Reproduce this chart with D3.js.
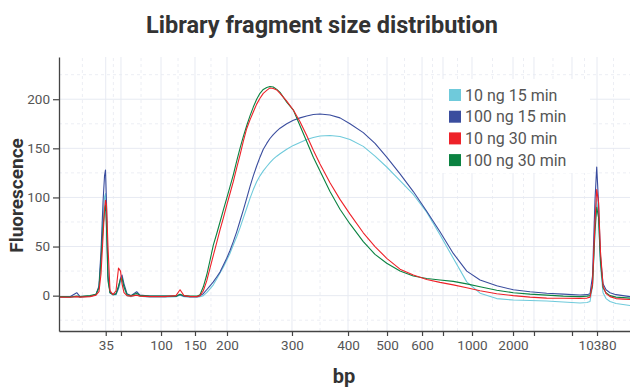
<!DOCTYPE html>
<html><head><meta charset="utf-8">
<script src="https://cdn.jsdelivr.net/npm/d3@7"></script>
<style>
body{margin:0;background:#fff;}
svg{display:block;font-family:Roboto, "Noto Sans", sans-serif;}
</style>
</head><body>
<svg id="chart" width="630" height="389"></svg>
<script>
// ---- Size ladder: fragment size (bp) and migration time (s) ----
const ladderBp   = [35, 50, 100, 150, 200, 300, 400, 500, 600, 700, 1000, 2000, 3000, 7000, 10380];
const ladderTime = [46.22, 48.25, 53.58, 58.10, 62.36, 71.01, 78.47, 83.66, 88.32, 91.11, 94.97, 100.43, 103.22, 108.28, 111.61];
const labeledBp  = [35, 100, 150, 200, 300, 400, 500, 600, 1000, 2000, 10380];
const yTicks = [0, 50, 100, 150, 200];
const timeRange = [40, 116];
const fluorRange = [-36, 243];

const seriesNames  = ["10 ng 15 min", "100 ng 15 min", "10 ng 30 min", "100 ng 30 min"];
const seriesColors = ["#6fcadb", "#3a4d9e", "#ee2229", "#0b8241"];

// ---- Electropherogram traces (migration time s -> fluorescence) ----
const time = [40.00,41.46,42.36,42.80,44.13,44.92,45.32,45.59,45.86,46.06,46.19,46.32,46.52,46.79,47.19,47.59,47.92,48.19,48.39,48.65,49.05,49.58,50.34,50.78,52.11,54.11,55.57,56.11,56.64,57.44,58.37,58.77,
59.21,59.66,60.10,60.54,60.99,61.43,61.87,62.32,62.76,63.20,63.65,64.09,64.53,64.98,65.42,65.86,66.31,66.75,67.19,67.65,68.08,68.52,68.98,69.42,70.31,71.19,72.08,72.97,73.85,74.74,76.07,77.40,78.73,80.50,82.06,83.62,85.39,87.16,88.94,90.71,92.48,94.27,96.04,98.26,100.47,102.69,104.91,107.12,109.35,110.28,110.68,111.01,111.34,111.57,111.81,112.07,112.41,112.81,113.34,114.14,115.07,116.00];

const fl10ng15 = [-1.5,-1.5,-1,-1.5,-0.5,1,8,40,80,100,104,80,20,3,0.5,1,7,14,16,8,0,-1,1,-0.5,-1.5,-1.5,-1,0.5,-1,-1.5,-1.5,-1,
0,3,7,11,17,23,29,36,43,51.5,60,69,79,89,99,108,116,122,127,131.5,135.5,139,142,144.5,149,153,156,159,161,162.5,163,162,159,152,142,131,117,103,85,62,38,14,2.5,-3,-4.5,-5,-5.5,-6.5,-7.5,-7,-6,10,70,98,80,30,3,-3,-6,-8,-9,-10];

const fl100ng15 = [-1,-1.2,3,-1,-0.5,1,10,45,95,122,128,95,20,3,1.5,1.5,8,18,21,12,2,0,4,0.5,-0.5,-0.5,-0.5,1,-0.5,-1,-1,0,
2,6,10,14,19,24,31,38,46,55,65,76,87,99,111,122,132,141,149,155,160,164,167.5,170.5,175,178.5,181,183,184.5,185,184,181,175,166,155,141,124,106,86,65,43,25,16,10,6,4,2.5,1.5,0.7,1,2,20,97,131,95,40,12,6,3,1,0,-1];

const fl10ng30 = [-1.5,-1.6,-1,-1.5,-1,0.5,4,22,60,88,97,92,50,5,1,5,28,25,12,3,0,-0.5,0.5,-0.5,-1,-1,0,6,0,-1,-1,0,
5,15,28,41,54,67,79,92,104,116,130,143,157,170,179,187,195,201,206,209,211.5,211,209.5,206,198,189,177,163,148,134,115,98,83,64,50,38,27,21,16.5,13.5,11,8,5,2,0,-1.5,-2.5,-2.7,-2.8,-2.5,-1.5,12,75,108,95,45,10,2,-1,-3,-3.5,-4];

const fl100ng30 = [-1,-1.3,-0.5,-1,0,1.5,8,35,70,86,92,70,15,3,1,2,10,17,18,9,1,0,2.5,0,-0.5,-0.5,-0.5,1.5,0,-0.5,-0.5,1,
9,21,36,51.5,63,75,87,99,111,123,137,150,162,173,183,192,200,206,210,212,213,212.5,210,207,197,189,173,157,141,127,106,88,73,55,42,33,25,20,17.5,16,14.5,12,9,5.5,3,1.5,0.5,-0.5,-1,-0.5,0,10,65,90,80,35,8,3,0,-1.5,-2,-2.5];

const seriesValues = [fl10ng15, fl100ng15, fl10ng30, fl100ng30];
const drawOrder = [0, 1, 3, 2];

// ---- Layout ----
const W = 630, H = 389;
const margin = {top: 57, right: 0, bottom: 58, left: 59};
const svg = d3.select("#chart");

const x = d3.scaleLinear().domain(timeRange).range([margin.left, W - margin.right]);
const y = d3.scaleLinear().domain(fluorRange).range([H - margin.bottom, margin.top]);

const bpOfTime = new Map(ladderTime.map((t, i) => [t, ladderBp[i]]));

// grid: minor (dashed) between ticks, major (solid) at ticks
const minorX = [];
const xt = [timeRange[0], ...ladderTime, timeRange[1]];
for (let i = 0; i < xt.length - 1; i++) minorX.push((xt[i] + xt[i + 1]) / 2);
const minorY = [];
for (let v = -25; v <= 225; v += 50) minorY.push(v);

const grid = svg.append("g");
grid.selectAll(".mx").data(minorX).join("line")
  .attr("x1", d => x(d)).attr("x2", d => x(d))
  .attr("y1", y(fluorRange[0])).attr("y2", y(fluorRange[1]))
  .attr("stroke", "#eceef4").attr("stroke-dasharray", "3,3");
grid.selectAll(".my").data(minorY).join("line")
  .attr("x1", x(timeRange[0])).attr("x2", x(timeRange[1]))
  .attr("y1", d => y(d)).attr("y2", d => y(d))
  .attr("stroke", "#eceef4").attr("stroke-dasharray", "3,3");
grid.selectAll(".Mx").data(ladderTime).join("line")
  .attr("x1", d => x(d)).attr("x2", d => x(d))
  .attr("y1", y(fluorRange[0])).attr("y2", y(fluorRange[1]))
  .attr("stroke", "#e7eaf2");
grid.selectAll(".My").data(yTicks).join("line")
  .attr("x1", x(timeRange[0])).attr("x2", x(timeRange[1]))
  .attr("y1", d => y(d)).attr("y2", d => y(d))
  .attr("stroke", "#e7eaf2");

// traces
const line = d3.line().x(d => x(d[0])).y(d => y(d[1]));
svg.append("clipPath").attr("id", "clip").append("rect")
  .attr("x", margin.left).attr("y", margin.top)
  .attr("width", W - margin.left - margin.right).attr("height", H - margin.top - margin.bottom);
const traces = svg.append("g").attr("clip-path", "url(#clip)");
drawOrder.forEach(i => {
  traces.append("path")
    .datum(time.map((t, k) => [t, seriesValues[i][k]]))
    .attr("fill", "none")
    .attr("stroke", seriesColors[i])
    .attr("stroke-width", 1.1)
    .attr("stroke-linejoin", "round")
    .attr("d", line);
});

// axes
const xAxis = d3.axisBottom(x).tickValues(ladderTime)
  .tickFormat(t => labeledBp.includes(bpOfTime.get(t)) ? bpOfTime.get(t) : "")
  .tickSize(5).tickSizeOuter(0).tickPadding(4);
const gx = svg.append("g").attr("transform", `translate(0,${H - margin.bottom})`).call(xAxis);
const yAxis = d3.axisLeft(y).tickValues(yTicks).tickSize(6).tickSizeOuter(0).tickPadding(3);
const gy = svg.append("g").attr("transform", `translate(${margin.left},0)`).call(yAxis);
[gx, gy].forEach(g => {
  g.select(".domain").attr("stroke", "#444").attr("stroke-width", 1.3);
  g.selectAll(".tick line").attr("stroke", "#444").attr("stroke-width", 1.2);
  g.selectAll(".tick text").attr("fill", "#555").style("font-size", "13.5px")
    .style("font-family", "Roboto, sans-serif");
});

// legend
const lg = svg.append("g");
lg.append("rect").attr("x", 433).attr("y", 79).attr("width", 157).attr("height", 94).attr("fill", "#fff");
seriesNames.forEach((n, i) => {
  const row = lg.append("g").attr("transform", `translate(449,${89 + i * 21.7})`);
  row.append("rect").attr("width", 12).attr("height", 12).attr("fill", seriesColors[i]);
  row.append("text").attr("x", 16).attr("y", 11.5).text(n)
    .attr("fill", "#555").style("font-size", "16px");
});

// titles
svg.append("text").attr("x", 322).attr("y", 33).attr("text-anchor", "middle")
  .style("font-size", "23.5px").style("font-weight", "bold").attr("fill", "#333")
  .text("Library fragment size distribution");
svg.append("text").attr("x", 344).attr("y", 383).attr("text-anchor", "middle")
  .style("font-size", "20px").style("font-weight", "bold").attr("fill", "#333")
  .text("bp");
svg.append("text").attr("transform", `translate(23,195.5) rotate(-90)`).attr("text-anchor", "middle")
  .style("font-size", "19px").style("font-weight", "bold").attr("fill", "#333")
  .text("Fluorescence");
</script>
</body></html>
